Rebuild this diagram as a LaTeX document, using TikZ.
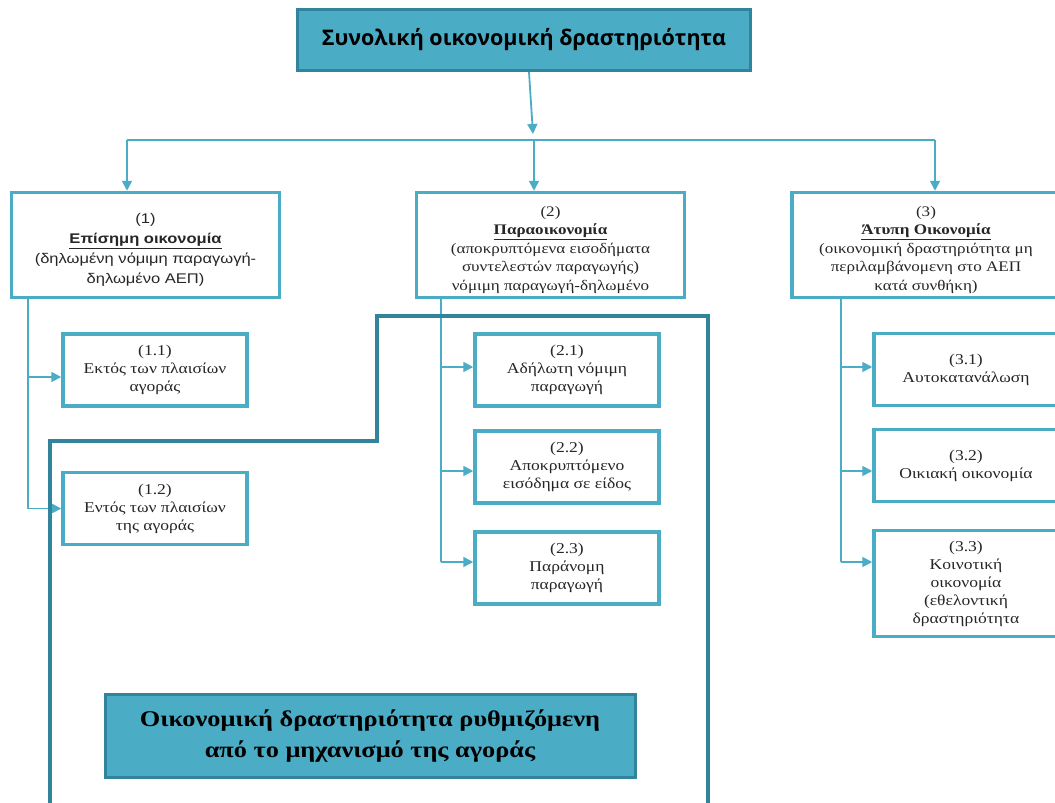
\documentclass[tikz,border=0pt]{standalone}
\usepackage{fontspec}
\setmainfont{Liberation Serif}[FakeStretch=1.17]
\newfontfamily\arialgr{Liberation Sans}[FakeStretch=1.18]
\newfontfamily\titlegr{Open Sans}
\usetikzlibrary{arrows.meta}
\definecolor{tealbox}{HTML}{4BACC6}
\definecolor{tealdark}{HTML}{31849B}
\definecolor{inkgray}{HTML}{262626}
\newcommand{\toppad}{\rule{0pt}{20pt}}

\tikzset{
  mainbox/.style={draw=tealdark, line width=3pt, fill=tealbox, align=center, inner sep=0pt},
  catbox/.style={draw=tealbox, line width=3.5pt, fill=white, align=center, inner sep=0pt,
    text=inkgray, minimum height=105pt, font=\fontsize{14.6}{18.5}\selectfont},
  subbox/.style={draw=tealbox, line width=3.5pt, fill=white, align=center, inner sep=0pt,
    text=inkgray, minimum width=184pt, minimum height=72pt, font=\fontsize{15}{18}\selectfont},
  link/.style={draw=tealbox, line width=1.8pt},
  arr/.style={link, -{Triangle[length=10pt,width=10pt]}},
  border/.style={draw=tealdark, line width=3.5pt},
}

\begin{document}
\begin{tikzpicture}[x=1pt,y=-1pt]
\useasboundingbox (0,0) rectangle (1055,803);
\clip (0,0) rectangle (1055,803);

% top box
\node (total) at (524,40) [mainbox, minimum width=453pt, minimum height=61pt,
  font=\titlegr\bfseries\fontsize{21.5}{24}\selectfont] {Συνολική οικονομική δραστηριότητα};

% three categories
\node (formal) at (145.5,245) [catbox, minimum width=268pt, font=\arialgr\fontsize{14}{20}\selectfont]
  {\toppad(1)\\\textbf{\underline{Επίσημη οικονομία}}\\(δηλωμένη νόμιμη παραγωγή-\\δηλωμένο ΑΕΠ)};
\node (parallel) at (550.5,245) [catbox, minimum width=268pt]
  {\toppad(2)\\\textbf{\underline{Παραοικονομία}}\\(αποκρυπτόμενα εισοδήματα\\συντελεστών παραγωγής)\\νόμιμη παραγωγή-δηλωμένο};
\node (informal) at (926,245) [catbox, minimum width=268pt]
  {\toppad(3)\\\textbf{\underline{Άτυπη Οικονομία}}\\(οικονομική δραστηριότητα μη\\περιλαμβάνομενη στο ΑΕΠ\\κατά συνθήκη)};

% sub boxes
\node (s11) at (155,370) [subbox] {(1.1)\\Εκτός των πλαισίων\\αγοράς};
\node (s12) at (155,508.5) [subbox] {(1.2)\\Εντός των πλαισίων\\της αγοράς};
\node (s21) at (567,370) [subbox] {(2.1)\\Αδήλωτη νόμιμη\\παραγωγή};
\node (s22) at (567,467) [subbox] {(2.2)\\Αποκρυπτόμενο\\εισόδημα σε είδος};
\node (s23) at (567,568) [subbox] {(2.3)\\Παράνομη\\παραγωγή};
\node (s31) at (966,369.5) [subbox] {(3.1)\\Αυτοκατανάλωση};
\node (s32) at (966,465.5) [subbox] {(3.2)\\Οικιακή οικονομία};
\node (s33) at (966,583.5) [subbox, minimum height=106pt] {(3.3)\\Κοινοτική\\οικονομία\\(εθελοντική\\δραστηριότητα};

% market box
\node (market) at (370,736) [mainbox, minimum width=530pt, minimum height=83pt,
  font=\bfseries\fontsize{22.5}{31}\selectfont] {Οικονομική δραστηριότητα ρυθμιζόμενη\\από το μηχανισμό της αγοράς};

% connectors
\coordinate (hub) at (533,134);
\coordinate (busL) at (127,140);
\coordinate (busM) at (534,140);
\coordinate (busR) at (935,140);
\draw[arr] ([xshift=5pt]total.south) -- (hub);
\draw[link] (busL) -- (busR);
\draw[arr] (busL) -- (busL |- formal.north);
\draw[arr] (busM) -- (busM |- parallel.north);
\draw[arr] (busR) -- (busR |- informal.north);

\coordinate (t1) at (28,0);
\coordinate (t2) at (441,0);
\coordinate (t3) at (841,0);
\draw[link] (t1 |- formal.south) -- (t1 |- s12.west);
\draw[arr] (t1 |- 0,377) -- (s11.west |- 0,377);
\draw[arr] (t1 |- s12.west) -- (s12.west);
\draw[link] (t2 |- parallel.south) -- (t2 |- 0,562);
\draw[arr] (t2 |- 0,367) -- (s21.west |- 0,367);
\draw[arr] (t2 |- 0,471) -- (s22.west |- 0,471);
\draw[arr] (t2 |- 0,562) -- (s23.west |- 0,562);
\draw[link] (t3 |- informal.south) -- (t3 |- 0,562);
\draw[arr] (t3 |- 0,367) -- (s31.west |- 0,367);
\draw[arr] (t3 |- 0,471) -- (s32.west |- 0,471);
\draw[arr] (t3 |- 0,562) -- (s33.west |- 0,562);

% market border
\draw[border] (50,810) -- (50,441) -- (377,441) -- (377,316) -- (708,316) -- (708,810);
\end{tikzpicture}
\end{document}
